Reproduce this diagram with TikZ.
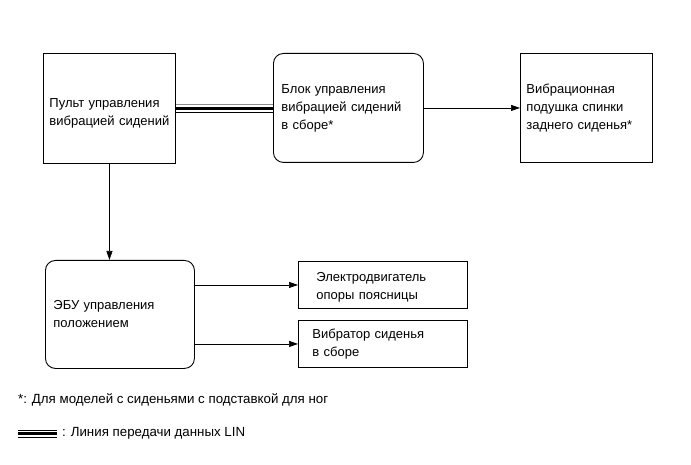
\documentclass[tikz,border=0pt]{standalone}
\usepackage{fontspec}
\setmainfont{Liberation Sans}
\usetikzlibrary{arrows.meta,calc}
\begin{document}
\begin{tikzpicture}[x=1pt,y=-1pt,
  every node/.style={font=\fontsize{13}{18}\selectfont},
  blk/.style={draw, line width=0.9pt, anchor=north west, align=left, inner ysep=0pt},
  rblk/.style={blk, rounded corners=10pt},
  arr/.style={line width=0.7pt, -{Triangle[length=9pt,width=6pt]}},
  linthin/.style={line width=0.9pt},
  linthick/.style={line width=2.6pt}
]
\useasboundingbox (0,0) rectangle (691,465);
\node[blk, minimum width=132pt, minimum height=110pt, text width=120pt, inner xsep=6pt] (b1) at (43,53) {\rule{0pt}{18pt}Пульт~управления\\вибрацией~сидений};
\node[rblk, minimum width=150pt, minimum height=109pt, text width=134pt, inner xsep=8pt] (b2) at (273,53) {Блок~управления\\вибрацией~сидений\\в~сборе*};
\node[blk, minimum width=132pt, minimum height=109pt, text width=120pt, inner xsep=6pt] (b3) at (520,53) {Вибрационная\\подушка~спинки\\заднего~сиденья*};
\node[rblk, minimum width=149pt, minimum height=108pt, text width=133pt, inner xsep=8pt] (b4) at (45,260) {ЭБУ~управления\\положением};
\node[blk, minimum width=169pt, minimum height=47pt, text width=133pt, inner xsep=18pt] (b5) at (298,261) {\rule{0pt}{13pt}Электродвигатель\\опоры~поясницы};
\node[blk, minimum width=169pt, minimum height=47pt, text width=141pt, inner xsep=14pt] (b6) at (298,320) {Вибратор~сиденья\\в~сборе};

% LIN line
\draw[linthin, black!45] ([yshift=4pt]b1.east) -- ([yshift=4pt]b1.east -| b2.west);
\draw[linthick] (b1.east) -- (b1.east -| b2.west);
\draw[linthin] ([yshift=-4pt]b1.east) -- ([yshift=-4pt]b1.east -| b2.west);

\draw[arr] (b2.east) -- (b2.east -| b3.west);
\draw[arr] (b1.south) -- (b1.south |- b4.north);
\draw[arr] (b5.west -| b4.east) -- (b5.west);
\draw[arr] (b6.west -| b4.east) -- (b6.west);

\node[anchor=west, inner sep=0pt, font=\fontsize{13.3}{18}\selectfont] (fn) at (18,400) {*: Для моделей с сиденьями с подставкой для ног};
\coordinate (la) at (18,433.5);
\coordinate (lb) at (57,433.5);
\draw[linthin] ([yshift=3.5pt]la) -- ([yshift=3.5pt]lb);
\draw[linthick] (la) -- (lb);
\draw[linthin] ([yshift=-3.5pt]la) -- ([yshift=-3.5pt]lb);
\node[anchor=west, inner sep=0pt, font=\fontsize{13.3}{18}\selectfont] (lt) at (62,433.5) {: Линия передачи данных LIN};
\end{tikzpicture}
\end{document}
